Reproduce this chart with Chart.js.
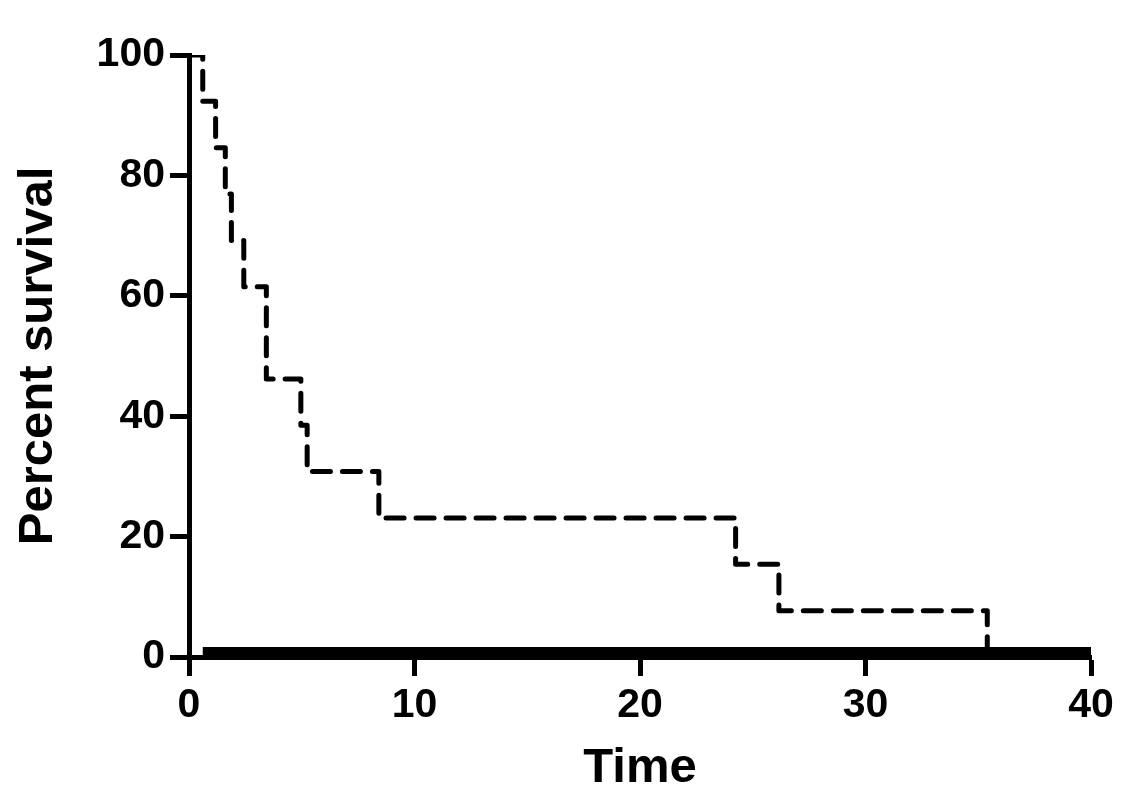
<!DOCTYPE html>
<html>
<head>
<meta charset="utf-8">
<script src="https://cdn.jsdelivr.net/npm/chart.js@4/dist/chart.umd.min.js"></script>
<style>
  html, body { margin: 0; padding: 0; background: #fff; }
  #c { display: block; }
</style>
</head>
<body>
<canvas id="c" width="1147" height="811"></canvas>
<script>
// Kaplan-Meier step data (time, percent survival after each event)
const times    = [0, 0.61, 1.18, 1.61, 1.88, 2.43, 3.43, 4.96, 5.24, 8.42, 24.24, 26.16, 35.40];
const survival = [100, 92.3, 84.6, 76.9, 69.2, 61.5, 46.2, 38.5, 30.8, 23.1, 15.4, 7.7, 0];
// Second group: flat at 0 percent
const times2    = [0.61, 40];
const survival2 = [0, 0];
const xTicks = [0, 10, 20, 30, 40];
const yTicks = [0, 20, 40, 60, 80, 100];

const km = times.map((t, i) => ({ x: t, y: survival[i] }));
const km2 = times2.map((t, i) => ({ x: t, y: survival2[i] }));

const FONT = 'Liberation Sans, Arial, Helvetica, sans-serif';

new Chart(document.getElementById('c'), {
  type: 'line',
  data: {
    datasets: [
      {
        data: km2,
        borderColor: '#000',
        borderWidth: 20,
        borderCapStyle: 'butt',
        pointRadius: 0,
        fill: false,
        tension: 0,
        clip: 0
      },
      {
        data: km,
        stepped: 'before',
        borderColor: '#000',
        borderWidth: 5,
        borderDash: [18, 12],
        borderCapStyle: 'round',
        borderJoinStyle: 'round',
        pointRadius: 0,
        fill: false
      }
    ]
  },
  options: {
    responsive: false,
    animation: false,
    devicePixelRatio: 1,
    layout: { padding: { left: 0, top: 55, right: 56, bottom: 0 } },
    plugins: { legend: { display: false }, tooltip: { enabled: false } },
    scales: {
      x: {
        type: 'linear',
        min: 0, max: 40,
        afterBuildTicks: (s) => { s.ticks = xTicks.map(v => ({ value: v })); },
        afterFit: (s) => { s.height = 154; },
        ticks: {
          color: '#000',
          padding: 5,
          font: { family: FONT, size: 41, weight: 'bold' }
        },
        grid: {
          display: true,
          drawOnChartArea: false,
          drawTicks: true,
          tickLength: 19,
          tickWidth: 5,
          tickColor: '#000'
        },
        border: { display: true, width: 5, color: '#000' },
        title: {
          display: true,
          text: 'Time',
          color: '#000',
          padding: { top: 0, bottom: 13 },
          font: { family: FONT, size: 49, weight: 'bold' }
        }
      },
      y: {
        type: 'linear',
        min: 0, max: 100,
        afterBuildTicks: (s) => { s.ticks = yTicks.map(v => ({ value: v })); },
        afterFit: (s) => { s.width = 189; },
        ticks: {
          color: '#000',
          padding: 5,
          font: { family: FONT, size: 41, weight: 'bold' }
        },
        grid: {
          display: true,
          drawOnChartArea: false,
          drawTicks: true,
          tickLength: 19,
          tickWidth: 5,
          tickColor: '#000'
        },
        border: { display: true, width: 5, color: '#000' },
        title: {
          display: true,
          text: 'Percent survival',
          color: '#000',
          padding: { top: 9, bottom: 0 },
          font: { family: FONT, size: 49, weight: 'bold' }
        }
      }
    }
  }
});
</script>
</body>
</html>
